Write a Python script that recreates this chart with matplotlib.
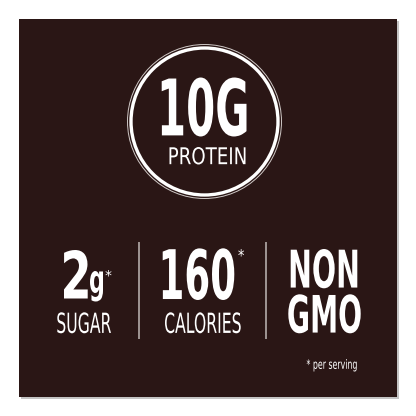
import matplotlib
matplotlib.use("Agg")
import matplotlib.pyplot as plt
from matplotlib.patches import Rectangle, Circle, PathPatch
from matplotlib.textpath import TextPath
from matplotlib.font_manager import FontProperties
from matplotlib.transforms import Affine2D

# Texts of the panel
circle_value = "10G"
circle_label = "PROTEIN"
stat_values = ["2", "160", "NON"]
stat_units = ["g", "", ""]
stat_labels = ["SUGAR", "CALORIES", "GMO"]
footnote = "* per serving"

# Colours
bg_color = "#2a1615"
text_color = "#ffffff"
rule_color = "#a9a09e"

bold_font = FontProperties(family=["Liberation Sans Narrow", "DejaVu Sans"], weight="bold")
light_font = FontProperties(family=["Liberation Sans Narrow", "DejaVu Sans"], weight="normal")


def fit_text(ax, s, box, prop, color=text_color):
    # draw s as a path squeezed into box = (x0, y0, x1, y1), y pointing down
    x0, y0, x1, y1 = box
    path = TextPath((0, 0), s, size=100, prop=prop)
    ext = path.get_extents()
    sx = (x1 - x0) / ext.width
    sy = (y1 - y0) / ext.height
    tr = Affine2D().translate(-ext.x0, -ext.y0).scale(sx, -sy).translate(x0, y1)
    ax.add_patch(PathPatch(tr.transform_path(path), facecolor=color,
                           edgecolor="none", lw=0))


fig = plt.figure(figsize=(4.16, 4.16), dpi=100)
ax = fig.add_axes([0, 0, 1, 1])
ax.set_xlim(0, 416)
ax.set_ylim(416, 0)
ax.axis("off")

# panel with a soft shadow
ax.add_patch(Rectangle((21, 21), 378, 378, facecolor="#c4c4c4", edgecolor="none"))
ax.add_patch(Rectangle((19, 19), 378, 378, facecolor=bg_color, edgecolor="none"))

# protein badge
ax.add_patch(Circle((204.5, 121.5), 77, facecolor="none", edgecolor="#cfc8c6", lw=0.7))
ax.add_patch(Circle((204.5, 121.5), 73.5, facecolor="none", edgecolor=text_color, lw=2.4))
fit_text(ax, circle_value, (161.7, 77.5, 246.5, 136.5), bold_font)
fit_text(ax, circle_label, (169.5, 147, 245.5, 164.5), light_font)

# sugar
fit_text(ax, stat_values[0], (64, 250, 87.7, 298.5), bold_font)
fit_text(ax, stat_units[0], (90, 271, 103, 301.5), bold_font)
fit_text(ax, "*", (105.5, 270, 111.5, 276.5), light_font)
fit_text(ax, stat_labels[0], (57.3, 312.3, 111, 333.3), light_font)

# calories
fit_text(ax, stat_values[1], (162.7, 248.3, 234.3, 300), bold_font)
fit_text(ax, "*", (238.3, 249, 244, 256.5), light_font)
fit_text(ax, stat_labels[1], (165, 312.3, 240.7, 333.3), light_font)

# non gmo
fit_text(ax, stat_values[2], (290.7, 249, 357.3, 288.3), bold_font)
fit_text(ax, stat_labels[2], (288.3, 294.3, 360.7, 333.3), bold_font)

# separators
ax.plot([139.3, 139.3], [241.5, 338.5], color=rule_color, lw=1.3, solid_capstyle="butt")
ax.plot([265.8, 265.8], [241.5, 338.5], color=rule_color, lw=1.3, solid_capstyle="butt")

fit_text(ax, footnote, (306.7, 359, 356.7, 371.5), light_font)

fig.savefig("out.png", dpi=100, facecolor="white")
